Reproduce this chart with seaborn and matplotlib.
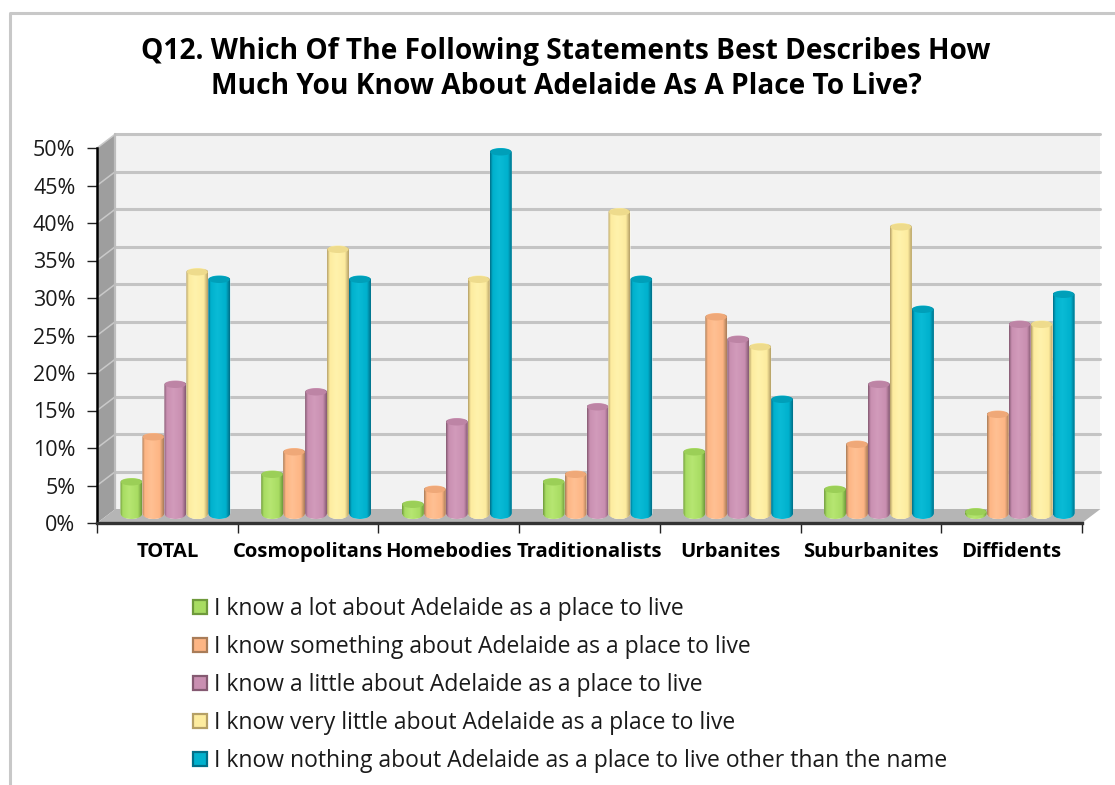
import numpy as np
import pandas as pd
import matplotlib
matplotlib.use('Agg')
import matplotlib.pyplot as plt
import seaborn as sns
from matplotlib.colors import LinearSegmentedColormap
from matplotlib.lines import Line2D
from matplotlib.patches import Ellipse, Patch, Polygon
from matplotlib.path import Path
from matplotlib.transforms import Affine2D, IdentityTransform

categories = ['TOTAL', 'Cosmopolitans', 'Homebodies', 'Traditionalists', 'Urbanites', 'Suburbanites', 'Diffidents']
series_names = ['I know a lot about Adelaide as a place to live',
                'I know something about Adelaide as a place to live',
                'I know a little about Adelaide as a place to live',
                'I know very little about Adelaide as a place to live',
                'I know nothing about Adelaide as a place to live other than the name']
know_lot = [5, 6, 2, 5, 9, 4, 1]
know_something = [11, 9, 4, 6, 27, 10, 14]
know_little = [18, 17, 13, 15, 24, 18, 26]
know_very_little = [33, 36, 32, 41, 23, 39, 26]
know_nothing = [32, 32, 49, 32, 16, 28, 30]
y_ticks = [0, 5, 10, 15, 20, 25, 30, 35, 40, 45, 50]
title = 'Q12. Which Of The Following Statements Best Describes How\nMuch You Know About Adelaide As A Place To Live?'

colors = ['#a8dc62', '#fdb584', '#c98fb1', '#fdec9f', '#00b1cd']
dark = ['#6f9a3c', '#a97c58', '#855a72', '#b5a066', '#006f88']
light = ['#b6e672', '#ffc093', '#d29bbb', '#fff2ac', '#0abbd6']
cap = ['#9bcf57', '#efa878', '#bd84a5', '#eedb8c', '#009fb9']

W, H = 1115, 785
sns.set_theme(style='white')
plt.rcParams['font.family'] = ['Open Sans', 'DejaVu Sans']

df = pd.DataFrame({'category': categories, series_names[0]: know_lot, series_names[1]: know_something,
                   series_names[2]: know_little, series_names[3]: know_very_little, series_names[4]: know_nothing})
long_df = df.melt(id_vars='category', var_name='series', value_name='value')

fig = plt.figure(figsize=(W / 100, H / 100), dpi=100)
ax = fig.add_axes([97 / W, (H - 523) / H, (1082 - 97) / W, (523 - 148) / H])
sns.barplot(data=long_df, x='category', y='value', hue='series', hue_order=series_names,
            palette=colors, width=0.78, gap=0, saturation=1, legend=False, ax=ax)
ax.set_xlim(-0.5, len(categories) - 0.5)
ax.set_ylim(0, 50)
ax.patch.set_visible(False)
fig.canvas.draw()

# 3d look: walls are the front plane pushed back by a pixel offset
back = (18.5, 14)
mid = (8, 5)
ident = IdentityTransform()


def px(x, y, off=(0, 0)):
    p = ax.transData.transform((x, y))
    return p[0] + off[0], p[1] + off[1]


x0, x1 = ax.get_xlim()
ax.add_patch(Polygon([px(x0, 0, back), px(x1, 0, back), px(x1, 50, back), px(x0, 50, back)],
                     transform=ident, fc='#f2f2f2', ec='none', zorder=0.1, clip_on=False))
ax.add_patch(Polygon([px(x0, 0), px(x0, 0, back), px(x0, 50, back), px(x0, 50)],
                     transform=ident, fc='#9e9e9e', ec='none', zorder=0.2, clip_on=False))
ax.add_patch(Polygon([px(x0, 0), px(x1, 0), px(x1, 0, back), px(x0, 0, back)],
                     transform=ident, fc='#b5b5b5', ec='none', zorder=0.3, clip_on=False))
for t in y_ticks[1:]:
    a, b, c = px(x0, t), px(x0, t, back), px(x1, t, back)
    ax.add_line(Line2D([b[0], c[0]], [b[1], c[1]], transform=ident, color='#c4c4c4',
                       lw=2.2, zorder=0.25, clip_on=False))
    ax.add_line(Line2D([a[0], b[0]], [a[1], b[1]], transform=ident, color='#c9c9c9',
                       lw=1.1, zorder=0.25, clip_on=False))
a, b = px(x0, 0, back), px(x0, 50, back)
ax.add_line(Line2D([a[0], b[0]], [a[1], b[1]], transform=ident, color='#bdbdbd', lw=1.6, zorder=0.25, clip_on=False))

# bars: seaborn rectangles shifted to mid depth, with cylinder shading on top
shift = Affine2D().translate(*mid)
for s, cont in enumerate(ax.containers):
    cmap = LinearSegmentedColormap.from_list('c', [(0, dark[s]), (0.12, colors[s]), (0.42, light[s]),
                                                   (0.82, colors[s]), (1, dark[s])])
    grad = np.linspace(0, 1, 64).reshape(1, -1)
    for bar in cont:
        bar.set_transform(ax.transData + shift)
        bar.set_zorder(2 + s * 0.1)
        (l, b0), (r, t0) = px(bar.get_x(), 0, mid), px(bar.get_x() + bar.get_width(), bar.get_height(), mid)
        cx, w = (l + r) / 2, (r - l) / 2
        ang = np.linspace(0, np.pi, 24)
        top_y = t0 - 1.5
        xs = np.r_[cx + w * np.cos(ang), cx - w * np.cos(ang)]
        ys = np.r_[top_y + 4 * np.sin(ang), b0 + 5 - 6 * np.sin(ang)]
        path = Path(np.c_[xs, ys])
        bar.set_clip_path(path, ident)
        im = ax.imshow(grad, cmap=cmap, extent=(l, r, b0 - 4, t0 + 4), aspect='auto', transform=ident,
                       zorder=2.01 + s * 0.1, clip_on=True, interpolation='bilinear')
        im.set_clip_path(path, ident)
        ax.add_patch(Ellipse((cx, top_y), 2 * w - 1, 7, transform=ident, fc=cap[s], ec='none',
                             zorder=2.02 + s * 0.1, clip_on=False))
ax.set_xlim(x0, x1)
ax.set_ylim(0, 50)

ax.set_xticks(np.arange(len(categories) + 1) - 0.5)
ax.set_xticklabels([])
ax.set_xticks(range(len(categories)), categories, minor=True, fontsize=14.6, fontweight='bold', color='black')
ax.tick_params(axis='x', which='major', length=7, width=1, color='#222222', bottom=True, direction='out')
ax.tick_params(axis='x', which='minor', length=0, pad=14)
ax.set_yticks(y_ticks, [f'{t}%' for t in y_ticks], fontsize=15.5, color='#1a1a1a')
ax.tick_params(axis='y', length=7, width=1, color='#222222', left=True, pad=8.5, direction='out')
ax.set_xlabel('')
ax.set_ylabel('')
sns.despine(ax=ax, top=True, right=True)
ax.spines['left'].set_linewidth(1.8)
ax.spines['left'].set_color('black')
ax.spines['bottom'].set_linewidth(2.4)
ax.spines['bottom'].set_color('#333333')
for sp in ax.spines.values():
    sp.set_zorder(5)

fig.text(566 / W, 1 - 69 / H, title, ha='center', va='center', fontsize=20.25, fontweight='bold',
         color='black', linespacing=1.25)

handles = [Patch(fc=colors[i], ec=dark[i], lw=1.6) for i in range(5)]
fig.legend(handles, series_names, loc='upper left', bbox_to_anchor=(193 / W, 1 - 597 / H), frameon=False,
           fontsize=16.47, handlelength=0.6, handleheight=0.6, handletextpad=0.3, labelspacing=0.615,
           labelcolor='#1a1a1a', borderpad=0, borderaxespad=0)

# chart area border
fig.add_artist(Line2D([9.5 / W, 9.5 / W, 1], [0, 1 - 12.5 / H, 1 - 12.5 / H], color='#c8c8c8', lw=2.2))

fig.savefig('out.png', dpi=100)
